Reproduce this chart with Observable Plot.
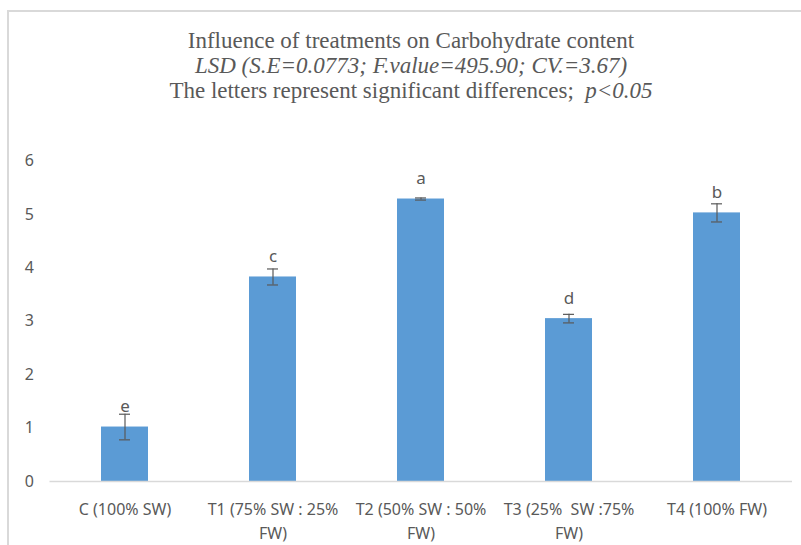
<!DOCTYPE html>
<html>
<head>
<meta charset="utf-8">
<script src="https://cdn.jsdelivr.net/npm/d3@7"></script>
<script src="https://cdn.jsdelivr.net/npm/@observablehq/plot@0.6"></script>
<style>
  html, body { margin: 0; padding: 0; background: #fff; }
  #page { position: relative; width: 801px; height: 545px; overflow: hidden; }
  #frame { position: absolute; left: 7px; top: 10px; width: 800px; height: 540px;
           border-left: 2px solid #d9d9d9; border-top: 2px solid #d9d9d9; }
  .t { position: absolute; left: 11px; width: 800px; text-align: center; white-space: nowrap;
       font-family: "Liberation Serif", "Times New Roman", serif; font-size: 23px; color: #595959; line-height: 1; }
  #plot { position: absolute; left: 0; top: 120px; }
</style>
</head>
<body>
<div id="page">
  <div id="frame"></div>
  <div class="t" style="top:29px">Influence of treatments on Carbohydrate content</div>
  <div class="t" style="top:54px"><i>LSD (S.E=0.0773; F.value=495.90; CV.=3.67)</i></div>
  <div class="t" style="top:79px">The letters represent significant differences;&nbsp; <i>p&lt;0.05</i></div>
  <div id="plot"></div>
</div>
<script>
const categories = ["C (100% SW)", "T1 (75% SW : 25% FW)", "T2 (50% SW : 50% FW)", "T3 (25%  SW :75% FW)", "T4 (100% FW)"];
const tickLabels = ["C (100% SW)", "T1 (75% SW : 25%\nFW)", "T2 (50% SW : 50%\nFW)", "T3 (25%  SW :75%\nFW)", "T4 (100% FW)"];
const values = [1.02, 3.83, 5.29, 3.05, 5.03];
const errors = [0.24, 0.15, 0.02, 0.08, 0.17];
const letters = ["e", "c", "a", "d", "b"];
const yTicks = [0, 1, 2, 3, 4, 5, 6];

const data = categories.map((c, i) => ({c, v: values[i], e: errors[i], l: letters[i]}));
const labelOf = new Map(categories.map((c, i) => [c, tickLabels[i]]));

const chart = Plot.plot({
  width: 801,
  height: 425,
  marginLeft: 49.5,
  marginRight: 9,
  marginTop: 40.6,
  marginBottom: 64,
  style: {fontFamily: "'Noto Sans', sans-serif", fontSize: "16px", color: "#595959", background: "transparent"},
  x: {domain: categories, paddingInner: 0.68, paddingOuter: 0.34, label: null},
  y: {domain: [0, 6], label: null},
  marks: [
    Plot.barY(data, {x: "c", y: "v", fill: "#5b9bd5"}),
    Plot.ruleY([0], {stroke: "#d9d9d9", strokeWidth: 1.3}),
    Plot.ruleX(data, {x: "c", y1: d => d.v - d.e, y2: d => d.v + d.e, stroke: "#595959", strokeWidth: 1.2}),
    Plot.tickY(data, {x: "c", y: d => d.v - d.e, stroke: "#595959", strokeWidth: 1.2, insetLeft: 18, insetRight: 18}),
    Plot.tickY(data, {x: "c", y: d => d.v + d.e, stroke: "#595959", strokeWidth: 1.2, insetLeft: 18, insetRight: 18}),
    Plot.text(data, {x: "c", y: "v", text: "l", dy: -20, fill: "#595959", fontSize: 17, lineAnchor: "middle"}),
    Plot.axisY({ticks: yTicks, tickSize: 0, tickPadding: 16, fontSize: 16, fill: "#595959", tickFormat: d => String(d)}),
    Plot.axisX({tickSize: 0, tickPadding: 16, fontSize: 16, fill: "#595959", tickFormat: d => labelOf.get(d), lineHeight: 1.5, lineAnchor: "top"})
  ]
});
document.getElementById("plot").appendChild(chart);
</script>
</body>
</html>
